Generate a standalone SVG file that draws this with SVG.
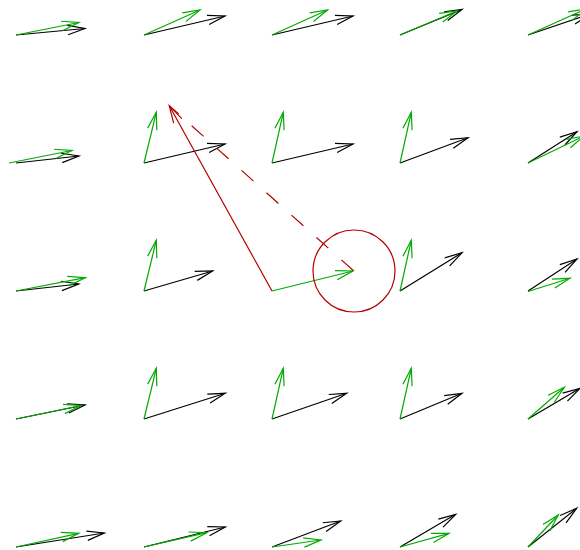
<svg xmlns="http://www.w3.org/2000/svg" width="580" height="550" viewBox="0 0 580 550">
<style>
line{stroke-width:1.2;fill:none}
.k{stroke:#000;marker-end:url(#hk)}
.g{stroke:#00aa00;marker-end:url(#hg)}
.r{stroke:#b40000;marker-end:url(#hr)}
.d{stroke:#b40000;stroke-dasharray:16 17.5}
</style>
<defs>
<marker id="hk" markerUnits="userSpaceOnUse" orient="auto" markerWidth="1" markerHeight="1" overflow="visible"><path d="M-17.4,-4.7L0,0L-17.4,4.7" fill="none" stroke="#000" stroke-width="1.2"/></marker>
<marker id="hg" markerUnits="userSpaceOnUse" orient="auto" markerWidth="1" markerHeight="1" overflow="visible"><path d="M-17.4,-4.7L0,0L-17.4,4.7" fill="none" stroke="#00aa00" stroke-width="1.2"/></marker>
<marker id="hr" markerUnits="userSpaceOnUse" orient="auto" markerWidth="1" markerHeight="1" overflow="visible"><path d="M-17.4,-4.7L0,0L-17.4,4.7" fill="none" stroke="#b40000" stroke-width="1.2"/></marker>
</defs>
<rect width="580" height="550" fill="#fff"/>
<g id="r1c0"><line class="k" x1="16" y1="35" x2="85" y2="28.5"/><line class="g" x1="16" y1="35" x2="79" y2="22.5"/></g>
<g id="r1c1"><line class="k" x1="144" y1="35" x2="225" y2="16"/><line class="g" x1="144" y1="35" x2="200" y2="10"/></g>
<g id="r1c2"><line class="k" x1="272" y1="35" x2="353" y2="16"/><line class="g" x1="272" y1="35" x2="327.5" y2="10"/></g>
<g id="r1c3"><line class="k" x1="400" y1="35" x2="462" y2="9.5"/><line class="g" x1="400" y1="35" x2="457" y2="11"/></g>
<g id="r1c4"><line class="k" x1="528" y1="35" x2="590" y2="14"/><line class="g" x1="528" y1="35" x2="586" y2="9"/></g>
<g id="r2c0"><line class="k" x1="16" y1="163" x2="79" y2="156"/><line class="g" x1="9" y1="163" x2="72" y2="150.5"/></g>
<g id="r2c1"><line class="k" x1="144" y1="163" x2="225" y2="144"/><line class="g" x1="144" y1="163" x2="156.3" y2="112.3"/></g>
<g id="r2c2"><line class="k" x1="272" y1="163" x2="353" y2="144"/><line class="g" x1="272" y1="163" x2="283.3" y2="112.3"/></g>
<g id="r2c3"><line class="k" x1="400" y1="163" x2="468" y2="137.7"/><line class="g" x1="400" y1="163" x2="411.3" y2="112.3"/></g>
<g id="r2c4"><line class="k" x1="528" y1="163" x2="577" y2="131.7"/><line class="g" x1="528" y1="163" x2="584" y2="136"/></g>
<g id="r3c0"><line class="k" x1="16" y1="291" x2="78.7" y2="284"/><line class="g" x1="16" y1="291" x2="85.3" y2="277.7"/></g>
<g id="r3c1"><line class="k" x1="144" y1="291" x2="212.7" y2="271"/><line class="g" x1="144" y1="291" x2="156.3" y2="240.3"/></g>
<g id="r3c2"><line class="g" x1="272" y1="291" x2="353" y2="271"/></g>
<g id="r3c3"><line class="k" x1="400" y1="291" x2="462" y2="252.7"/><line class="g" x1="400" y1="291" x2="411.3" y2="240.3"/></g>
<g id="r3c4"><line class="k" x1="528" y1="291" x2="577" y2="259"/><line class="g" x1="528" y1="291.5" x2="570" y2="278.3"/></g>
<g id="r4c0"><line class="k" x1="16" y1="419" x2="85" y2="405"/><line class="g" x1="16" y1="419" x2="81" y2="405.5"/></g>
<g id="r4c1"><line class="k" x1="144" y1="419" x2="225.3" y2="393.3"/><line class="g" x1="144" y1="419" x2="156.3" y2="368.3"/></g>
<g id="r4c2"><line class="k" x1="272" y1="419" x2="346.7" y2="393.3"/><line class="g" x1="272" y1="419" x2="283.3" y2="368.3"/></g>
<g id="r4c3"><line class="k" x1="400" y1="419" x2="462" y2="393.3"/><line class="g" x1="400" y1="419" x2="411.3" y2="368.3"/></g>
<g id="r4c4"><line class="k" x1="528" y1="419" x2="580" y2="388.3"/><line class="g" x1="528" y1="419" x2="564.3" y2="387.3"/></g>
<g id="r5c0"><line class="k" x1="16" y1="547" x2="104.3" y2="533"/><line class="g" x1="16" y1="547" x2="78.7" y2="533.3"/></g>
<g id="r5c1"><line class="k" x1="144" y1="547" x2="225.3" y2="527"/><line class="g" x1="144" y1="547" x2="206.7" y2="532.7"/></g>
<g id="r5c2"><line class="k" x1="272" y1="547" x2="340.7" y2="521"/><line class="g" x1="272" y1="547" x2="321" y2="540"/></g>
<g id="r5c3"><line class="k" x1="400" y1="547" x2="455.7" y2="514.3"/><line class="g" x1="400" y1="547" x2="449" y2="533.3"/></g>
<g id="r5c4"><line class="k" x1="528" y1="547" x2="576.7" y2="508.3"/><line class="g" x1="528" y1="547" x2="558.3" y2="515"/></g>
<g id="construction">
<circle cx="354" cy="271" r="41" fill="none" stroke="#b40000" stroke-width="1.2"/>
<line class="r" x1="272" y1="291" x2="169.3" y2="105.7"/>
<line class="d" x1="353.3" y1="270.5" x2="169.3" y2="105.7"/>
</g>
</svg>
